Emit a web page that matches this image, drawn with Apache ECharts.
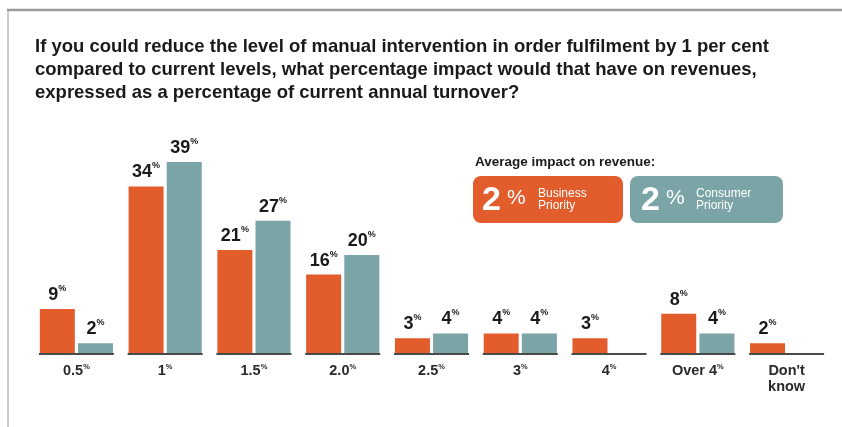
<!DOCTYPE html>
<html>
<head>
<meta charset="utf-8">
<script src="https://cdn.jsdelivr.net/npm/echarts@6/dist/echarts.min.js"></script>
<style>
  html, body { margin: 0; padding: 0; background: #fff; }
  #chart { width: 842px; height: 427px; }
</style>
</head>
<body>
<div id="chart"></div>
<script>
// categories and values
const categories = ["0.5", "1", "1.5", "2.0", "2.5", "3", "4", "Over 4", "Don't\nknow"];
const businessPriority = [9, 34, 21, 16, 3, 4, 3, 8, 2];
const consumerPriority = [2, 39, 27, 20, 4, 4, 0, 4, 0];
const avgBusiness = 2;
const avgConsumer = 2;

const ORANGE = "#e25c2c";
const TEAL = "#7aa4a5";
const FONT = "Liberation Sans";

let myChart = echarts.init(document.getElementById("chart"));

// value label with a small raised % sign
function pctLabel(p) {
  if (!p.value) return "";
  return "{n|" + p.value + "}{s|%}";
}
const labelRich = {
  n: { fontFamily: FONT, fontWeight: "bold", fontSize: 18, color: "#1a1a1a", verticalAlign: "bottom", lineHeight: 20 },
  s: { fontFamily: FONT, fontWeight: "bold", fontSize: 9, color: "#1a1a1a", verticalAlign: "top", padding: [0, 0, 9, 0], lineHeight: 20 },
};

myChart.setOption({
  animation: false,
  backgroundColor: "#fff",
  title: {
    text: "If you could reduce the level of manual intervention in order fulfilment by 1 per cent\ncompared to current levels, what percentage impact would that have on revenues,\nexpressed as a percentage of current annual turnover?",
    left: 30,
    top: 30,
    textStyle: {
      fontFamily: FONT,
      fontWeight: "bold",
      fontSize: 18.5,
      lineHeight: 23,
      color: "#1a1a1a",
    },
  },
  grid: {
    left: 32,
    right: 11,
    top: 157,
    bottom: 74,
  },
  xAxis: {
    type: "category",
    data: categories,
    axisLine: { show: false },
    axisTick: { show: false },
    axisLabel: {
      interval: 0,
      margin: 10,
      lineHeight: 16,
      formatter: function (v) {
        if (v.indexOf("\n") >= 0) return "{t|" + v.split("\n").join("}\n{t|") + "}";
        return "{t|" + v + "}{s|%}";
      },
      rich: {
        t: { fontFamily: FONT, fontWeight: "bold", fontSize: 14.5, color: "#2a2a2a", lineHeight: 16 },
        s: { fontFamily: FONT, fontWeight: "bold", fontSize: 7.5, color: "#2a2a2a", verticalAlign: "top", lineHeight: 16 },
      },
    },
  },
  yAxis: {
    type: "value",
    min: 0,
    max: 40,
    show: false,
    splitLine: { show: false },
  },
  graphic: [
    { type: "line", shape: { x1: 7, y1: 10, x2: 842, y2: 10 }, style: { stroke: "#9a9a9a", lineWidth: 2.5 } },
    { type: "line", shape: { x1: 8, y1: 10, x2: 8, y2: 427 }, style: { stroke: "#9a9a9a", lineWidth: 1 } },
    {
      type: "text", left: 475, top: 155,
      style: { text: "Average impact on revenue:", fontFamily: FONT, fontWeight: "bold", fontSize: 13.5, fill: "#1a1a1a" },
    },
    {
      type: "group", left: 473, top: 176,
      children: [
        { type: "rect", shape: { x: 0, y: 0, width: 150, height: 47, r: 8 }, style: { fill: ORANGE } },
        { type: "text", x: 9, y: 8, style: { text: String(avgBusiness), fontFamily: FONT, fontWeight: "bold", fontSize: 34, fill: "#fff" } },
        { type: "text", x: 34, y: 12, style: { text: "%", fontFamily: FONT, fontSize: 21, fill: "#fff" } },
        { type: "text", x: 65, y: 12, style: { text: "Business\nPriority", fontFamily: FONT, fontSize: 12, lineHeight: 12, fill: "#fff" } },
      ],
    },
    {
      type: "group", left: 630, top: 176,
      children: [
        { type: "rect", shape: { x: 0, y: 0, width: 153, height: 47, r: 8 }, style: { fill: TEAL } },
        { type: "text", x: 11, y: 8, style: { text: String(avgConsumer), fontFamily: FONT, fontWeight: "bold", fontSize: 34, fill: "#fff" } },
        { type: "text", x: 36, y: 12, style: { text: "%", fontFamily: FONT, fontSize: 21, fill: "#fff" } },
        { type: "text", x: 66, y: 12, style: { text: "Consumer\nPriority", fontFamily: FONT, fontSize: 12, lineHeight: 12, fill: "#fff" } },
      ],
    },
  ],
  series: [
    {
      name: "Business Priority",
      type: "bar",
      barWidth: 35,
      barGap: "9%",
      itemStyle: { color: ORANGE },
      label: { show: true, position: "top", distance: 5, formatter: pctLabel, rich: labelRich },
      data: businessPriority,
    },
    {
      name: "Consumer Priority",
      type: "bar",
      barWidth: 35,
      itemStyle: { color: TEAL },
      label: { show: true, position: "top", distance: 5, formatter: pctLabel, rich: labelRich },
      data: consumerPriority,
    },
    {
      // short base line under each category group
      name: "base",
      type: "custom",
      silent: true,
      z: 5,
      data: categories.map((c, i) => [i, 0]),
      renderItem: function (params, api) {
        const p = api.coord([api.value(0), 0]);
        return {
          type: "line",
          shape: { x1: p[0] - 37.5, y1: p[1] + 1, x2: p[0] + 37.5, y2: p[1] + 1 },
          style: { stroke: "#4a4a4a", lineWidth: 2 },
        };
      },
    },
  ],
});
</script>
</body>
</html>
